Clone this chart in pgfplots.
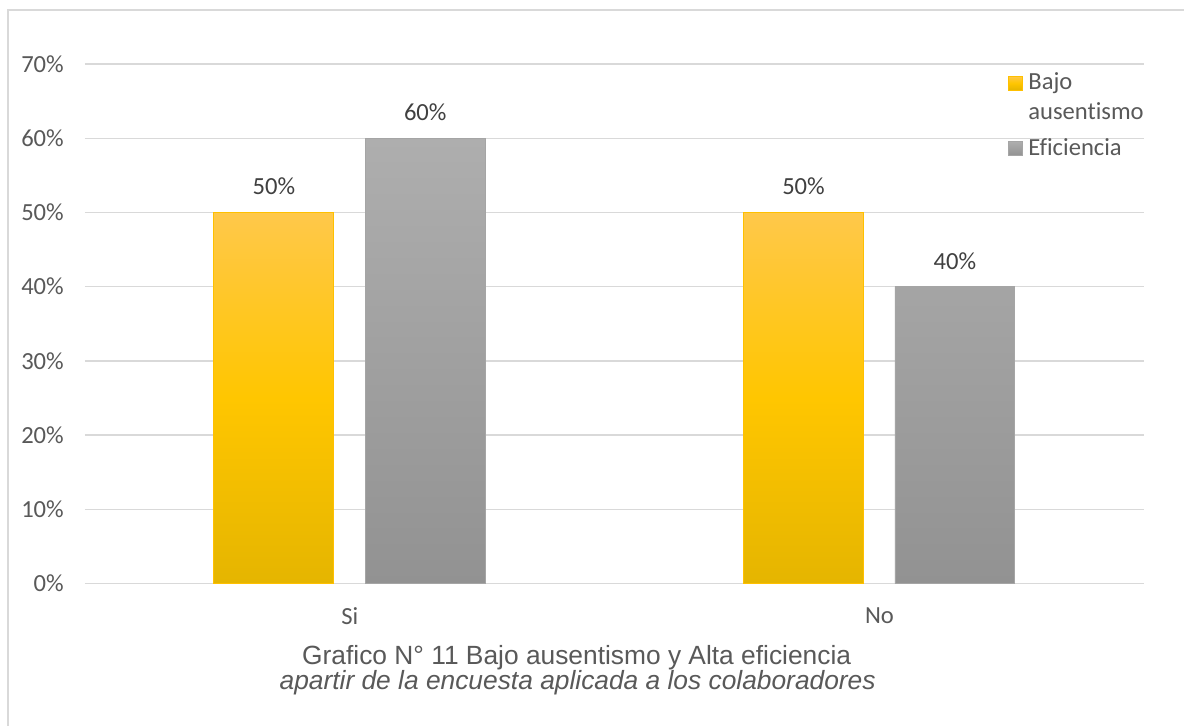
\documentclass[border=0pt]{standalone}
\usepackage{pgfplots}
\pgfplotsset{compat=1.18}
\usepackage{fontspec}
\setmainfont{Carlito}[Ligatures=NoCommon]
\newfontfamily\arialf{Liberation Sans}

\definecolor{txt}{HTML}{595959}
\definecolor{lbl}{HTML}{404040}
\definecolor{gridc}{HTML}{D9D9D9}
\definecolor{frame}{HTML}{D9D9D9}
\definecolor{ytop}{HTML}{FFC84A}
\definecolor{ymid}{HTML}{FFC600}
\definecolor{ybot}{HTML}{E5B500}
\definecolor{yedge}{HTML}{FFC000}
\definecolor{gtop}{HTML}{AEAEAE}
\definecolor{gbot}{HTML}{929292}
\definecolor{gedge}{HTML}{A5A5A5}

\pgfdeclareverticalshading{yellowbar}{100bp}{%
  color(0bp)=(ybot); color(25bp)=(ybot); color(50bp)=(ymid);
  color(75bp)=(ytop); color(100bp)=(ytop)}
\pgfdeclareverticalshading{graybar}{100bp}{%
  color(0bp)=(gbot); color(25bp)=(gbot);
  color(75bp)=(gtop); color(100bp)=(gtop)}

\begin{document}
\begin{tikzpicture}
% page background and chart frame (1 px = 0.02 cm)
\fill[white] (0,0) rectangle (23.7cm,14.52cm);
\draw[frame, line width=0.8pt] (0.16cm,0) -- (0.16cm,14.32cm) -- (23.7cm,14.32cm);

\begin{axis}[
  at={(1.7cm,2.84cm)}, anchor=south west,
  scale only axis, width=21.2cm, height=10.4cm,
  xmin=-0.5, xmax=1.5, ymin=0, ymax=70,
  xtick={0,1}, xticklabels={Si,No},
  ytick={0,10,...,70},
  /pgf/number format/assume math mode=true,
  yticklabel={\pgfmathprintnumber{\tick}\%},
  axis line style={draw=none},
  major tick style={draw=none},
  ymajorgrids, grid style={gridc, line width=0.8pt},
  tick label style={font=\fontsize{14}{16}\selectfont, text=txt},
  yticklabel style={xshift=-0.3cm},
  xticklabel style={yshift=-0.2cm},
  ybar, bar width=2.4cm,
  nodes near coords={\pgfmathprintnumber{\pgfplotspointmeta}\%},
  nodes near coords style={font=\fontsize{14}{16}\selectfont, text=lbl, yshift=0.22cm},
  legend style={at={(0.866,0.998)}, anchor=north west, draw=none, fill=none,
    font=\fontsize{14}{16}\selectfont, text=txt,
    row sep=0.2cm, column sep=0.04cm},
  legend cell align=left,
  clip=false,
]
\addplot[bar shift=-1.52cm, draw=yedge, line width=0.5pt, shading=yellowbar,
  legend image code/.code={\fill[yedge] (0cm,0.14cm) rectangle (0.28cm,0.42cm);}]
  coordinates {(0,50) (1,50)};
\addlegendentry{\shortstack[l]{Bajo\\[2pt]ausentismo}}
\addplot[bar shift=1.51cm, draw=gedge, line width=0.5pt, shading=graybar,
  legend image code/.code={\fill[gedge] (0cm,-0.14cm) rectangle (0.28cm,0.14cm);}]
  coordinates {(0,60) (1,40)};
\addlegendentry{Eficiencia}
\end{axis}

% caption below the chart
\node[anchor=base, text=txt, font=\arialf\fontsize{15}{18}\selectfont]
  at (11.54cm,1.22cm) {Grafico N° 11 Bajo ausentismo y Alta eficiencia};
\node[anchor=base, text=txt, font=\arialf\itshape\fontsize{15}{18}\selectfont]
  at (11.56cm,0.73cm) {apartir de la encuesta aplicada a los colaboradores};
\end{tikzpicture}
\end{document}
